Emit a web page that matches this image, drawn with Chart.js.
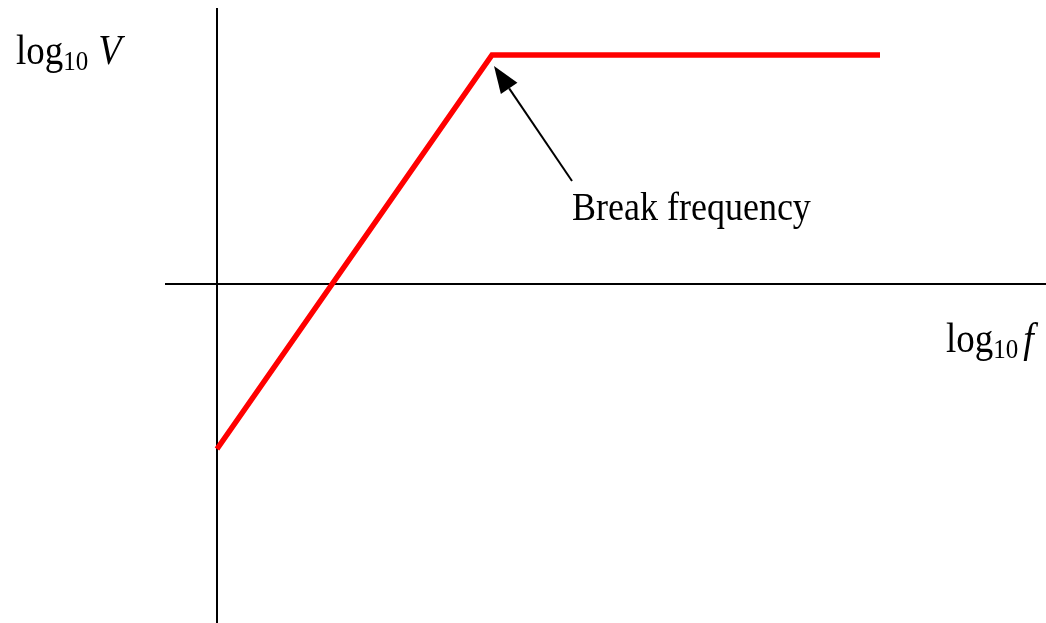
<!DOCTYPE html>
<html>
<head>
<meta charset="utf-8">
<script src="https://cdn.jsdelivr.net/npm/chart.js@4/dist/chart.umd.min.js"></script>
<style>
    html, body { margin: 0; padding: 0; background: #fff; overflow: hidden; }
    #bode { display: block; }
</style>
</head>
<body>
<canvas id="bode" width="1046" height="623" style="width:1046px;height:623px"></canvas>
<script>
// asymptotic response: rising slope up to the break point, then flat
const curveX = [0, 2.75, 6.63];
const curveY = [-1.65, 2.29, 2.29];

// visible window of the log-log plane
const xRange = [-2.17, 8.29];
const yRange = [-3.39, 2.84];

// where the drawn axes start (they run to the canvas edge on the other side)
const axisXStart = -0.52;
const axisYTop = 2.76;

// annotation pointing at the corner
const breakLabel = 'Break frequency';
const breakLabelAt = [3.55, 0.64];
const arrowTail = [3.55, 1.03];
const arrowTip = [2.77, 2.18];

const SERIF = '"Liberation Serif", "Times New Roman", serif';
const TALL = 1.12; // text is drawn a little taller than it is wide

function tallText(ctx, text, x, baseline) {
    ctx.save();
    ctx.translate(x, baseline);
    ctx.scale(1, TALL);
    ctx.fillText(text, 0, 0);
    ctx.restore();
}

function drawLogLabel(ctx, x, baseline, variable, gap) {
    ctx.save();
    ctx.fillStyle = '#000';
    ctx.textBaseline = 'alphabetic';
    ctx.textAlign = 'left';
    ctx.font = '37px ' + SERIF;
    tallText(ctx, 'log', x, baseline);
    let w = ctx.measureText('log').width;
    ctx.font = '25px ' + SERIF;
    tallText(ctx, '10', x + w, baseline + 6);
    w += ctx.measureText('10').width;
    ctx.font = 'italic 38px ' + SERIF;
    tallText(ctx, variable, x + w + gap, baseline);
    ctx.restore();
}

const axesPlugin = {
    id: 'logAxes',
    beforeDatasetsDraw(chart) {
        const ctx = chart.ctx;
        const sx = chart.scales.x, sy = chart.scales.y;
        const x0 = sx.getPixelForValue(0), y0 = sy.getPixelForValue(0);
        ctx.save();
        ctx.strokeStyle = '#000';
        ctx.lineWidth = 2;
        ctx.beginPath();
        ctx.moveTo(x0, sy.getPixelForValue(axisYTop));
        ctx.lineTo(x0, chart.height);
        ctx.moveTo(sx.getPixelForValue(axisXStart), y0);
        ctx.lineTo(chart.width, y0);
        ctx.stroke();
        ctx.restore();
    },
    afterDraw(chart) {
        const ctx = chart.ctx;
        const sx = chart.scales.x, sy = chart.scales.y;
        const x0 = sx.getPixelForValue(0), y0 = sy.getPixelForValue(0);

        // axis titles
        drawLogLabel(ctx, x0 - 201, sy.getPixelForValue(axisYTop) + 56, 'V', 10);
        drawLogLabel(ctx, chart.width - 100, y0 + 68, 'f', 5);

        // arrow from the label to the break point
        const tx = sx.getPixelForValue(arrowTail[0]), ty = sy.getPixelForValue(arrowTail[1]);
        const hx = sx.getPixelForValue(arrowTip[0]), hy = sy.getPixelForValue(arrowTip[1]);
        const ang = Math.atan2(hy - ty, hx - tx);
        const len = 27, half = 10;
        const bx = hx - Math.cos(ang) * len, by = hy - Math.sin(ang) * len;
        ctx.save();
        ctx.strokeStyle = '#000';
        ctx.fillStyle = '#000';
        ctx.lineWidth = 2;
        ctx.beginPath();
        ctx.moveTo(tx, ty);
        ctx.lineTo(bx, by);
        ctx.stroke();
        ctx.beginPath();
        ctx.moveTo(hx, hy);
        ctx.lineTo(bx + Math.sin(ang) * half, by - Math.cos(ang) * half);
        ctx.lineTo(bx - Math.sin(ang) * half, by + Math.cos(ang) * half);
        ctx.closePath();
        ctx.fill();

        ctx.font = '36px ' + SERIF;
        ctx.textAlign = 'left';
        ctx.textBaseline = 'alphabetic';
        tallText(ctx, breakLabel, sx.getPixelForValue(breakLabelAt[0]), sy.getPixelForValue(breakLabelAt[1]));
        ctx.restore();
    }
};

new Chart(document.getElementById('bode'), {
    type: 'scatter',
    data: {
        datasets: [{
            data: curveX.map((x, i) => ({ x: x, y: curveY[i] })),
            showLine: true,
            borderColor: '#ff0000',
            backgroundColor: '#ff0000',
            borderWidth: 5.5,
            pointRadius: 0,
            borderCapStyle: 'butt',
            borderJoinStyle: 'miter',
            clip: false
        }]
    },
    options: {
        responsive: false,
        animation: false,
        devicePixelRatio: 1,
        layout: { padding: 0 },
        plugins: { legend: { display: false }, tooltip: { enabled: false }, title: { display: false } },
        scales: {
            x: { type: 'linear', display: false, min: xRange[0], max: xRange[1] },
            y: { type: 'linear', display: false, min: yRange[0], max: yRange[1] }
        }
    },
    plugins: [axesPlugin]
});
</script>
</body>
</html>
